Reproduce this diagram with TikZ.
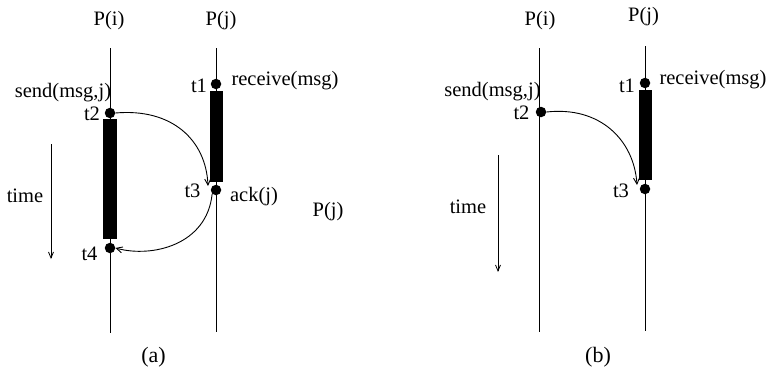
\documentclass[tikz,border=0pt]{standalone}
\usepackage{fontspec}
\setmainfont{Liberation Serif}
\usetikzlibrary{arrows.meta}
\begin{document}
\begin{tikzpicture}[x=1pt,y=-1pt,
  lbl/.style={font=\fontsize{20.5}{22}\selectfont, inner sep=0pt, anchor=base},
  panelcap/.style={font=\fontsize{22}{24}\selectfont, inner sep=0pt, anchor=base},
  life/.style={line width=1pt},
  dot/.style={circle, fill=black, inner sep=0pt, minimum size=10.5pt},
  busy/.style={fill=black, draw=none},
  msg/.style={line width=0.9pt, -{Straight Barb[length=6pt,width=6pt]}},
  tarrow/.style={line width=0.8pt, -{Straight Barb[length=6pt,width=5pt]}}]
\useasboundingbox (0,0) rectangle (770,378);

% ---------- (a) request with acknowledgement ----------
\coordinate (ai top) at (110,48);  \coordinate (ai bot) at (110,333);
\coordinate (aj top) at (216,48);  \coordinate (aj bot) at (216,332);
\draw[life] (ai top) -- (ai bot);
\draw[life] (aj top) -- (aj bot);
\fill[busy] (103,119) rectangle (117,239);
\fill[busy] (210,91) rectangle (223,182);
\node[dot] (a t1) at (216,84) {};
\node[dot] (a t2) at (110,113) {};
\node[dot] (a t3) at (216,190) {};
\node[dot] (a t4) at (110,248) {};

\node[lbl] (a pi) at (109,25) {P(i)};
\node[lbl] (a pj) at (221,25) {P(j)};
\node[lbl] (a send) at (63,97) {send(msg,j)};
\node[lbl] (a l2) at (92,120) {t2};
\node[lbl] (a l1) at (199,92.5) {t1};
\node[lbl] (a recv) at (285,85) {receive(msg)};
\node[lbl] (a l3) at (192.5,197) {t3};
\node[lbl] (a ack) at (254,201) {ack(j)};
\node[lbl] (a pj2) at (328,216.5) {P(j)};
\node[lbl] (a time) at (25,202) {time};
\node[lbl] (a l4) at (89.5,260) {t4};
\node[panelcap] (a caption) at (153.5,362) {(a)};

\coordinate (a ts) at (51,144); \coordinate (a te) at (51,259);
\draw[tarrow] (a ts) -- (a te);

\draw[msg] (a t2.east) .. controls (172,108) and (206,140) .. (208,186);
\draw[msg] (a t3.south west) .. controls (207,245) and (152,258) .. (a t4.east);

% ---------- (b) request without acknowledgement ----------
\coordinate (bi top) at (539,48);  \coordinate (bi bot) at (539,332);
\coordinate (bj top) at (645,46);  \coordinate (bj bot) at (645,331);
\draw[life] (bi top) -- (bi bot);
\draw[life] (bj top) -- (bj bot);
\fill[busy] (639,90) rectangle (652,180);
\node[dot] (b t1) at (645,83) {};
\node[dot] (b t2) at (541,112) {};
\node[dot] (b t3) at (645,189) {};

\node[lbl] (b pi) at (540,25) {P(i)};
\node[lbl] (b pj) at (643.5,21.5) {P(j)};
\node[lbl] (b send) at (492.5,96) {send(msg,j)};
\node[lbl] (b l2) at (521.5,119) {t2};
\node[lbl] (b l1) at (627,92) {t1};
\node[lbl] (b recv) at (713,84) {receive(msg)};
\node[lbl] (b l3) at (621,197) {t3};
\node[lbl] (b time) at (468,213) {time};
\node[panelcap] (b caption) at (598,362) {(b)};

\coordinate (b ts) at (498,155); \coordinate (b te) at (498,272);
\draw[tarrow] (b ts) -- (b te);

\draw[msg] (b t2.east) .. controls (600,106) and (634,140) .. (637,185);
\end{tikzpicture}
\end{document}
